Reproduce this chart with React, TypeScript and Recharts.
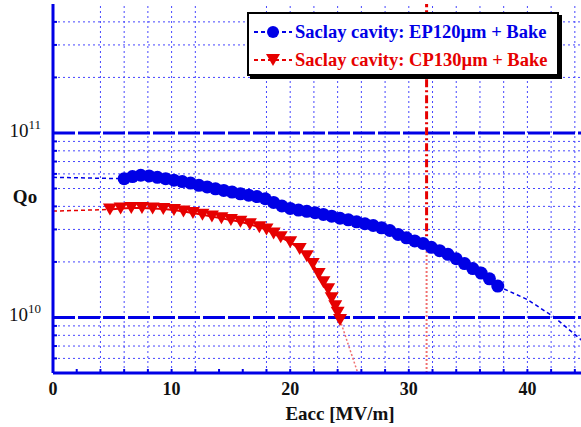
import React from 'react';
import { ComposedChart, Line, XAxis, YAxis, ReferenceLine, Legend } from 'recharts';

// EP120um + bake (blue)
const epEacc = [
  6.0, 6.7, 7.4, 8.1, 8.8, 9.5, 10.2, 10.9, 11.6, 12.3, 13.0, 13.7, 14.4, 15.1, 15.8, 16.5,
  17.2, 17.9, 18.6, 19.3, 20.0, 20.7, 21.4, 22.1, 22.8, 23.5, 24.2, 24.9, 25.6, 26.3, 27.0,
  27.7, 28.4, 29.1, 29.8, 30.5, 31.2, 31.9, 32.6, 33.3, 34.0, 34.7, 35.4, 36.1, 36.8, 37.5,
];
const epQ = [
  5.65e10, 5.8e10, 5.9e10, 5.85e10, 5.75e10, 5.65e10, 5.55e10, 5.45e10, 5.35e10, 5.2e10,
  5.1e10, 4.98e10, 4.88e10, 4.78e10, 4.68e10, 4.6e10, 4.52e10, 4.4e10, 4.2e10, 4.02e10,
  3.9e10, 3.82e10, 3.76e10, 3.7e10, 3.62e10, 3.54e10, 3.45e10, 3.38e10, 3.3e10, 3.22e10,
  3.15e10, 3.06e10, 2.96e10, 2.82e10, 2.7e10, 2.6e10, 2.52e10, 2.4e10, 2.3e10, 2.2e10,
  2.08e10, 1.96e10, 1.84e10, 1.74e10, 1.62e10, 1.48e10,
];
const epLeftEacc = [0, 6.0];
const epLeftQ = [5.75e10, 5.65e10];
const epFitEacc = [37.5, 40, 42.3, 44.6];
const epFitQ = [1.48e10, 1.25e10, 1.0e10, 7.5e9];

// CP130um + bake (red)
const cpEacc = [
  4.8, 5.7, 6.6, 7.5, 8.4, 9.3, 10.2, 11.0, 11.8, 12.6, 13.4, 14.2, 15.0, 15.8, 16.6, 17.4,
  18.0, 18.6, 19.2, 20.0, 20.8, 21.4, 21.9, 22.4, 22.8, 23.2, 23.5, 23.8, 24.0, 24.2,
];
const cpQ = [
  3.85e10, 3.9e10, 3.92e10, 3.92e10, 3.9e10, 3.87e10, 3.82e10, 3.75e10, 3.68e10, 3.6e10,
  3.52e10, 3.45e10, 3.37e10, 3.3e10, 3.2e10, 3.08e10, 3.0e10, 2.85e10, 2.72e10, 2.56e10,
  2.35e10, 2.15e10, 1.95e10, 1.72e10, 1.55e10, 1.42e10, 1.27e10, 1.15e10, 1.06e10, 9.7e9,
];
const cpLeftEacc = [0, 4.8];
const cpLeftQ = [3.77e10, 3.85e10];
const cpFitEacc = [24.2, 25.7];
const cpFitQ = [9.7e9, 5e9];

const limitEacc = 31.5;
const limitQ = 2.4e10;

const xTicks = [0, 2, 4, 6, 8, 10, 12, 14, 16, 18, 20, 22, 24, 26, 28, 30, 32, 34, 36, 38, 40, 42, 44, 46, 48, 50];
const xLabels = [0, 10, 20, 30, 40];
const xGrid = [4, 6, 8, 10, 12, 18, 20, 22, 24, 26, 28, 30, 32, 34, 36, 38, 40, 42, 44, 46, 48];
const yMajor = [1e10, 1e11];
const yMinor = [6e9, 7e9, 8e9, 9e9, 2e10, 3e10, 4e10, 5e10, 6e10, 7e10, 8e10, 9e10, 2e11, 3e11, 4e11];
const yTicks = [...yMinor, ...yMajor].sort((a, b) => a - b);

const BLUE = '#0000e6';
const RED = '#e60000';
const GRID = '#4646ff';
const FONT = 'Liberation Serif, DejaVu Serif, Times New Roman, serif';

const zip = (xs: number[], ys: number[]) => xs.map((x, i) => ({ x, q: ys[i] }));

const BlueDot = (props: any) => {
  const { cx, cy } = props;
  if (cx == null || cy == null) return null;
  return <circle cx={cx} cy={cy} r={6.5} fill={BLUE} />;
};

const RedDot = (props: any) => {
  const { cx, cy } = props;
  if (cx == null || cy == null) return null;
  return <polygon points={`${cx - 7},${cy - 6} ${cx + 7},${cy - 6} ${cx},${cy + 6}`} fill={RED} />;
};

const BottomTick = (props: any) => {
  const { x, y, payload } = props;
  return (
    <g>
      <line x1={x} x2={x} y1={y} y2={y - 4} stroke={BLUE} strokeWidth={2} />
      {xLabels.includes(payload.value) && (
        <text x={x} y={y + 22} textAnchor="middle" fontFamily={FONT} fontWeight="bold" fontSize={18} fill="#111">
          {payload.value}
        </text>
      )}
    </g>
  );
};

const TopTick = (props: any) => {
  const { x, y } = props;
  return <line x1={x} x2={x} y1={y} y2={y + 4} stroke={BLUE} strokeWidth={2} />;
};

const LeftTick = (props: any) => {
  const { x, y, payload } = props;
  const major = yMajor.includes(payload.value);
  const exp = Math.round(Math.log10(payload.value));
  return (
    <g>
      <line x1={x} x2={x + 4} y1={y} y2={y} stroke={BLUE} strokeWidth={2} />
      {major && (
        <text x={x - 12} y={y + 4} textAnchor="end" fontFamily={FONT} fontSize={19} fill="#111">
          10
          <tspan fontSize={13} dy={-8}>{exp}</tspan>
        </text>
      )}
    </g>
  );
};

const legendRows = [
  { name: 'Saclay cavity: EP120µm + Bake', color: BLUE, shape: 'circle' },
  { name: 'Saclay cavity: CP130µm + Bake', color: RED, shape: 'tri' },
];

const renderLegend = () => (
  <div
    style={{
      border: '2px solid #000',
      boxShadow: '3px 3px 0 #000',
      background: '#fff',
      padding: '4px 10px 0 4px',
      fontFamily: FONT,
      fontWeight: 'bold',
      fontSize: 18.5,
    }}
  >
    {legendRows.map((r) => (
      <div key={r.name} style={{ display: 'flex', alignItems: 'center', height: 28, color: r.color, whiteSpace: 'nowrap' }}>
        <svg width={40} height={16} style={{ marginRight: 2 }}>
          <line x1={1} x2={39} y1={8} y2={8} stroke={r.color} strokeWidth={2} strokeDasharray="4 3" />
          {r.shape === 'circle' ? (
            <circle cx={20} cy={8} r={6} fill={r.color} />
          ) : (
            <polygon points="13,2 27,2 20,14" fill={r.color} />
          )}
        </svg>
        <span>{r.name}</span>
      </div>
    ))}
  </div>
);

export default function App() {
  return (
    <div style={{ position: 'absolute', left: 0, top: 0, width: 581, height: 427, overflow: 'hidden', background: '#fff' }}>
      <ComposedChart width={646} height={427} margin={{ top: 4, right: 0, left: 0, bottom: 0 }}>
        <XAxis
          type="number"
          dataKey="x"
          domain={[0, 50]}
          ticks={xTicks}
          interval={0}
          height={54}
          tickSize={0}
          tickMargin={0}
          tick={<BottomTick />}
          axisLine={{ stroke: BLUE, strokeWidth: 3 }}
          tickLine={false}
          allowDataOverflow
          label={{
            content: () => (
              <text x={340} y={420} textAnchor="middle" fontFamily={FONT} fontWeight="bold" fontSize={19} fill="#111">
                Eacc [MV/m]
              </text>
            ),
          }}
        />
        <XAxis
          xAxisId="top"
          orientation="top"
          type="number"
          dataKey="x"
          domain={[0, 50]}
          ticks={xTicks}
          interval={0}
          height={0}
          tickSize={0}
          tickMargin={0}
          tick={<TopTick />}
          axisLine={{ stroke: BLUE, strokeWidth: 3 }}
          tickLine={false}
        />
        <YAxis
          type="number"
          dataKey="q"
          scale="log"
          domain={[5e9, 5e11]}
          ticks={yTicks}
          interval={0}
          width={53}
          tickSize={0}
          tickMargin={0}
          tick={<LeftTick />}
          axisLine={{ stroke: BLUE, strokeWidth: 3 }}
          tickLine={false}
          allowDataOverflow
          label={{
            content: () => (
              <text x={25} y={203} textAnchor="middle" fontFamily={FONT} fontWeight="bold" fontSize={19} fill="#111">
                Qo
              </text>
            ),
          }}
        />
        {yMinor.map((v) => (
          <ReferenceLine key={'h' + v} y={v} stroke={GRID} strokeWidth={1} strokeDasharray="2 3" />
        ))}
        {xGrid.map((v) => (
          <ReferenceLine key={'v' + v} x={v} stroke={GRID} strokeWidth={1} strokeDasharray="2 3" />
        ))}
        {yMajor.map((v) => (
          <ReferenceLine key={'m' + v} y={v} stroke={BLUE} strokeWidth={3} strokeDasharray="22 3" />
        ))}
        <Line data={zip(epLeftEacc, epLeftQ)} dataKey="q" stroke={BLUE} strokeWidth={1.5} strokeDasharray="4 3" dot={false} isAnimationActive={false} legendType="none" />
        <Line data={zip(epFitEacc, epFitQ)} dataKey="q" stroke={BLUE} strokeWidth={1.5} strokeDasharray="4 3" dot={false} isAnimationActive={false} legendType="none" />
        <Line data={zip(cpLeftEacc, cpLeftQ)} dataKey="q" stroke={RED} strokeWidth={1.5} strokeDasharray="4 3" dot={false} isAnimationActive={false} legendType="none" />
        <Line data={zip(cpFitEacc, cpFitQ)} dataKey="q" stroke="#f07070" strokeWidth={1.5} strokeDasharray="2 2" dot={false} isAnimationActive={false} legendType="none" />
        <Line data={zip(epEacc, epQ)} dataKey="q" name="EP" stroke={BLUE} strokeWidth={2} dot={<BlueDot />} isAnimationActive={false} />
        <Line data={zip(cpEacc, cpQ)} dataKey="q" name="CP" stroke={RED} strokeWidth={2} dot={<RedDot />} isAnimationActive={false} />
        <ReferenceLine
          segment={[{ x: limitEacc, y: 5e9 }, { x: limitEacc, y: limitQ }]}
          stroke="#f07070"
          strokeWidth={2}
          strokeDasharray="2 2"
        />
        <ReferenceLine
          segment={[{ x: limitEacc, y: limitQ }, { x: limitEacc, y: 5e11 }]}
          stroke={RED}
          strokeWidth={3}
          strokeDasharray="8 3 2 3"
        />
        <Legend
          layout="vertical"
          align="center"
          verticalAlign="middle"
          content={renderLegend}
          wrapperStyle={{ left: 247, top: 12, width: 'auto' }}
        />
      </ComposedChart>
    </div>
  );
}
